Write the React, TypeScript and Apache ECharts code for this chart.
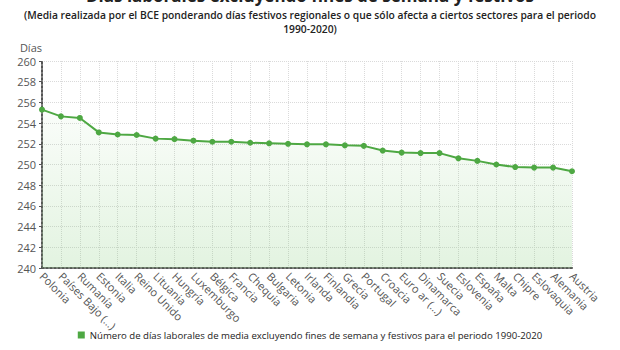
import React, { useEffect, useRef } from "react";
import * as echarts from "echarts";

const categories = [
  "Polonia", "Países Bajo (...)", "Rumanía", "Estonia", "Italia", "Reino Unido", "Lituania",
  "Hungría", "Luxemburgo", "Bélgica", "Francia", "Chequia", "Bulgaria", "Letonia", "Irlanda",
  "Finlandia", "Grecia", "Portugal", "Croacia", "Euro ar (...)", "Dinamarca", "Suecia",
  "Eslovenia", "España", "Malta", "Chipre", "Eslovaquia", "Alemania", "Austria",
];
const values = [
  255.3, 254.65, 254.5, 253.1, 252.9, 252.85, 252.5, 252.45, 252.3, 252.2, 252.2, 252.1,
  252.05, 252.0, 251.95, 251.95, 251.85, 251.8, 251.35, 251.15, 251.1, 251.1, 250.6, 250.35,
  250.0, 249.75, 249.7, 249.7, 249.35,
];
const yTicks = { min: 240, max: 260, interval: 2 };
const seriesName =
  "Número de días laborales de media excluyendo fines de semana y festivos para el periodo 1990-2020";
const title = "Días laborales excluyendo fines de semana y festivos";
const subtitle1 =
  "(Media realizada por el BCE ponderando días festivos regionales o que sólo afecta a ciertos sectores para el periodo";
const subtitle2 = "1990-2020)";

export default function App() {
  const ref = useRef<HTMLDivElement>(null);
  useEffect(() => {
    document.body.style.margin = "0";
    if (!ref.current) return;
    const chart = echarts.init(ref.current, undefined, { renderer: "svg" });
    const font = "'Open Sans', sans-serif";
    chart.setOption({
      animation: false,
      backgroundColor: "#ffffff",
      textStyle: { fontFamily: font },
      graphic: [
        {
          type: "text",
          left: "center",
          top: -13,
          style: { text: title, font: `bold 17px ${font}`, fill: "#222" },
        },
        {
          type: "text",
          left: "center",
          top: 10,
          style: { text: subtitle1, font: `600 10.3px ${font}`, fill: "#222" },
        },
        {
          type: "text",
          left: "center",
          top: 24,
          style: { text: subtitle2, font: `600 10.3px ${font}`, fill: "#222" },
        },
      ],
      legend: {
        bottom: 5,
        left: "center",
        itemWidth: 7,
        itemHeight: 7,
        icon: "rect",
        itemGap: 4,
        textStyle: { fontSize: 9.6, color: "#222", fontFamily: font },
        data: [seriesName],
      },
      grid: { left: 42, right: 48, top: 61, bottom: 82, containLabel: false },
      xAxis: {
        type: "category",
        data: categories,
        boundaryGap: false,
        axisLine: { show: true, lineStyle: { color: "#555", width: 2, type: "dotted" } },
        axisTick: { show: false },
        axisLabel: { rotate: -45, fontSize: 11, color: "#555", interval: 0, margin: 6 },
        splitLine: { show: true, lineStyle: { color: "#dadada", type: "dotted" } },
      },
      yAxis: {
        type: "value",
        min: yTicks.min,
        max: yTicks.max,
        interval: yTicks.interval,
        name: "Días",
        nameLocation: "end",
        nameGap: 8,
        nameTextStyle: { color: "#555", fontSize: 11, align: "right" },
        axisLine: { show: true, lineStyle: { color: "#555", width: 2, type: "dotted" } },
        axisTick: { show: true, length: 3, lineStyle: { color: "#555" } },
        axisLabel: { fontSize: 11, color: "#555", margin: 6 },
        splitLine: { show: true, lineStyle: { color: "#dadada", type: "dotted" } },
      },
      series: [
        {
          name: seriesName,
          type: "line",
          data: values,
          symbol: "circle",
          symbolSize: 6,
          itemStyle: { color: "#4ea843" },
          lineStyle: { color: "#4ea843", width: 2 },
          areaStyle: {
            origin: "start",
            color: new echarts.graphic.LinearGradient(0, 0, 0, 1, [
              { offset: 0, color: "rgba(120,200,110,0.05)" },
              { offset: 1, color: "rgba(120,200,110,0.3)" },
            ]),
          },
        },
      ],
    });
    return () => chart.dispose();
  }, []);
  return <div ref={ref} style={{ width: 620, height: 350 }} />;
}
